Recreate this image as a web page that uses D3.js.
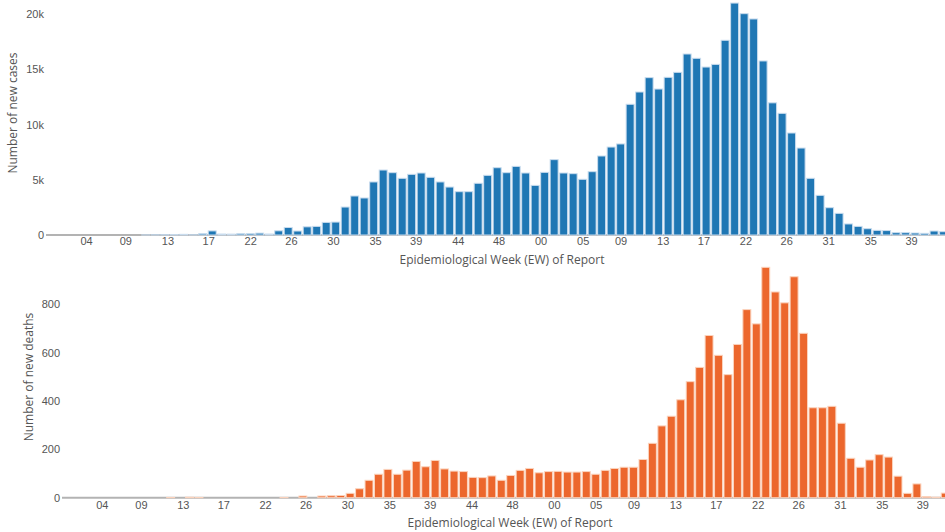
<!DOCTYPE html>
<html>
<head>
<meta charset="utf-8">
<script src="https://cdn.jsdelivr.net/npm/d3@7"></script>
<style>
  html, body { margin: 0; padding: 0; background: #fff; }
  svg { display: block; font-family: "Open Sans", "DejaVu Sans", sans-serif; }
</style>
</head>
<body>
<svg id="chart" width="945" height="532"></svg>
<script>
// ---- DATA ----
const firstWeek = "2020-01-06"; // Monday of the first reported epidemiological week
const newCases = [
  0, 0, 0, 0, 0, 0, 0, 0, 0, 0,
  10, 20, 30, 40, 60, 20, 120, 370, 90, 80,
  120, 130, 170, 90, 380, 680, 360, 740, 780, 1140,
  1170, 2530, 3530, 3350, 4800, 5880, 5640, 5130, 5490, 5610,
  5220, 4800, 4340, 3920, 3920, 4680, 5400, 6090, 5640, 6210,
  5610, 4490, 5670, 6820, 5610, 5550, 5040, 5730, 7150, 7960,
  8240, 11830, 12940, 14240, 13210, 14270, 14720, 16380, 15990, 15200,
  15440, 17620, 20990, 20030, 19550, 15750, 11960, 11010, 9230, 7870,
  5130, 3590, 2470, 1960, 1000, 780, 570, 420, 400, 210,
  210, 180, 150, 360, 300
];
const newDeaths = [
  0, 0, 0, 0, 0, 0, 0, 0, 0, 0,
  0, 1, 0, 2, 1, 0, 0, 0, 0, 0,
  0, 0, 0, 1, 0, 7, 0, 7, 8, 9,
  18, 37, 72, 97, 117, 97, 114, 150, 128, 154,
  119, 110, 108, 84, 83, 90, 72, 92, 113, 121,
  103, 108, 109, 106, 106, 108, 97, 113, 121, 126,
  126, 158, 225, 297, 337, 405, 480, 539, 671, 589,
  509, 634, 778, 719, 953, 851, 806, 914, 680, 372,
  372, 378, 308, 163, 126, 156, 178, 168, 89, 18,
  57, 5, 2, 19
];
const caseTicks = [0, 5000, 10000, 15000, 20000];
const deathTicks = [0, 200, 400, 600, 800];
const xTickStart = "2020-02-01", xTickEnd = "2021-10-01";
const xTitle = "Epidemiological Week (EW) of Report";

// ---- DRAW ----
const svg = d3.select("#chart");
const W = 945;
const parse = d3.utcParse("%Y-%m-%d");
const t0 = parse(firstWeek);
const monthTicks = d3.utcMonth.range(parse(xTickStart), d3.utcDay.offset(parse(xTickEnd), 1));
const fmtWeek = d3.utcFormat("%U");

function panel(opts) {
  const dates = opts.values.map((v, i) => d3.utcWeek.offset(t0, i));
  const left = opts.left;
  // domain starts half a week before first bar
  const d0 = d3.utcHour.offset(t0, -84);
  const x = d3.scaleUtc().domain([d0, parse(xTickEnd)]).range([left, opts.anchorRight]);
  const y = d3.scaleLinear().domain([0, opts.yMax]).range([opts.y0, opts.yTop]);
  const g = svg.append("g");

  // zero line
  g.append("line")
    .attr("x1", left).attr("x2", W)
    .attr("y1", y(0)).attr("y2", y(0))
    .attr("stroke", "#b3b3b3").attr("stroke-width", 2);

  const bw = (x(d3.utcDay.offset(t0, 7)) - x(t0)) * 0.84;
  g.selectAll("rect.bar").data(opts.values).join("rect")
    .attr("class", "bar")
    .attr("x", (d, i) => x(dates[i]) - bw / 2)
    .attr("width", bw)
    .attr("y", d => y(d))
    .attr("height", d => y(0) - y(d))
    .attr("fill", opts.color)
    .attr("stroke", opts.edge)
    .attr("stroke-width", 1);

  // x axis labels
  const xa = d3.axisBottom(x).tickValues(monthTicks).tickFormat(fmtWeek).tickSize(0).tickPadding(0);
  const gx = g.append("g").attr("transform", `translate(0,${opts.xLabelY})`).call(xa);
  gx.select(".domain").remove();
  gx.selectAll("text").attr("fill", "#555").attr("font-size", 11).attr("dy", "0.35em").attr("y", 0);

  // y axis labels
  const ya = d3.axisLeft(y).tickValues(opts.yTicks).tickFormat(opts.yFmt).tickSize(0).tickPadding(0);
  const gy = g.append("g").attr("transform", `translate(${opts.yLabelX},0)`).call(ya);
  gy.select(".domain").remove();
  gy.selectAll("text").attr("fill", "#555").attr("font-size", 11);

  // titles
  g.append("text").attr("x", opts.xTitleX).attr("y", opts.xTitleY)
    .attr("text-anchor", "middle").attr("dy", "0.35em")
    .attr("fill", "#555").attr("font-size", 12).text(xTitle);
  g.append("text")
    .attr("transform", `translate(${opts.yTitleX},${opts.yTitleY}) rotate(-90)`)
    .attr("text-anchor", "middle").attr("dy", "0.35em")
    .attr("fill", "#555").attr("font-size", 12).text(opts.yTitle);
}

panel({
  values: newCases, left: 46, anchorRight: 911,
  yMax: 20000, y0: 235, yTop: 14, yTicks: caseTicks, yFmt: d3.format("~s"),
  color: "#1f77b4", edge: "#c9dcee",
  xLabelY: 241, yLabelX: 44,
  xTitleX: 502, xTitleY: 259.5,
  yTitle: "Number of new cases", yTitleX: 13, yTitleY: 113
});

panel({
  values: newDeaths, left: 62, anchorRight: 922.3,
  yMax: 800, y0: 497.7, yTop: 304.3, yTicks: deathTicks, yFmt: d3.format("d"),
  color: "#ec672d", edge: "#fbd3bd",
  xLabelY: 505, yLabelX: 60,
  xTitleX: 510, xTitleY: 523,
  yTitle: "Number of new deaths", yTitleX: 29, yTitleY: 377
});
</script>
</body>
</html>
